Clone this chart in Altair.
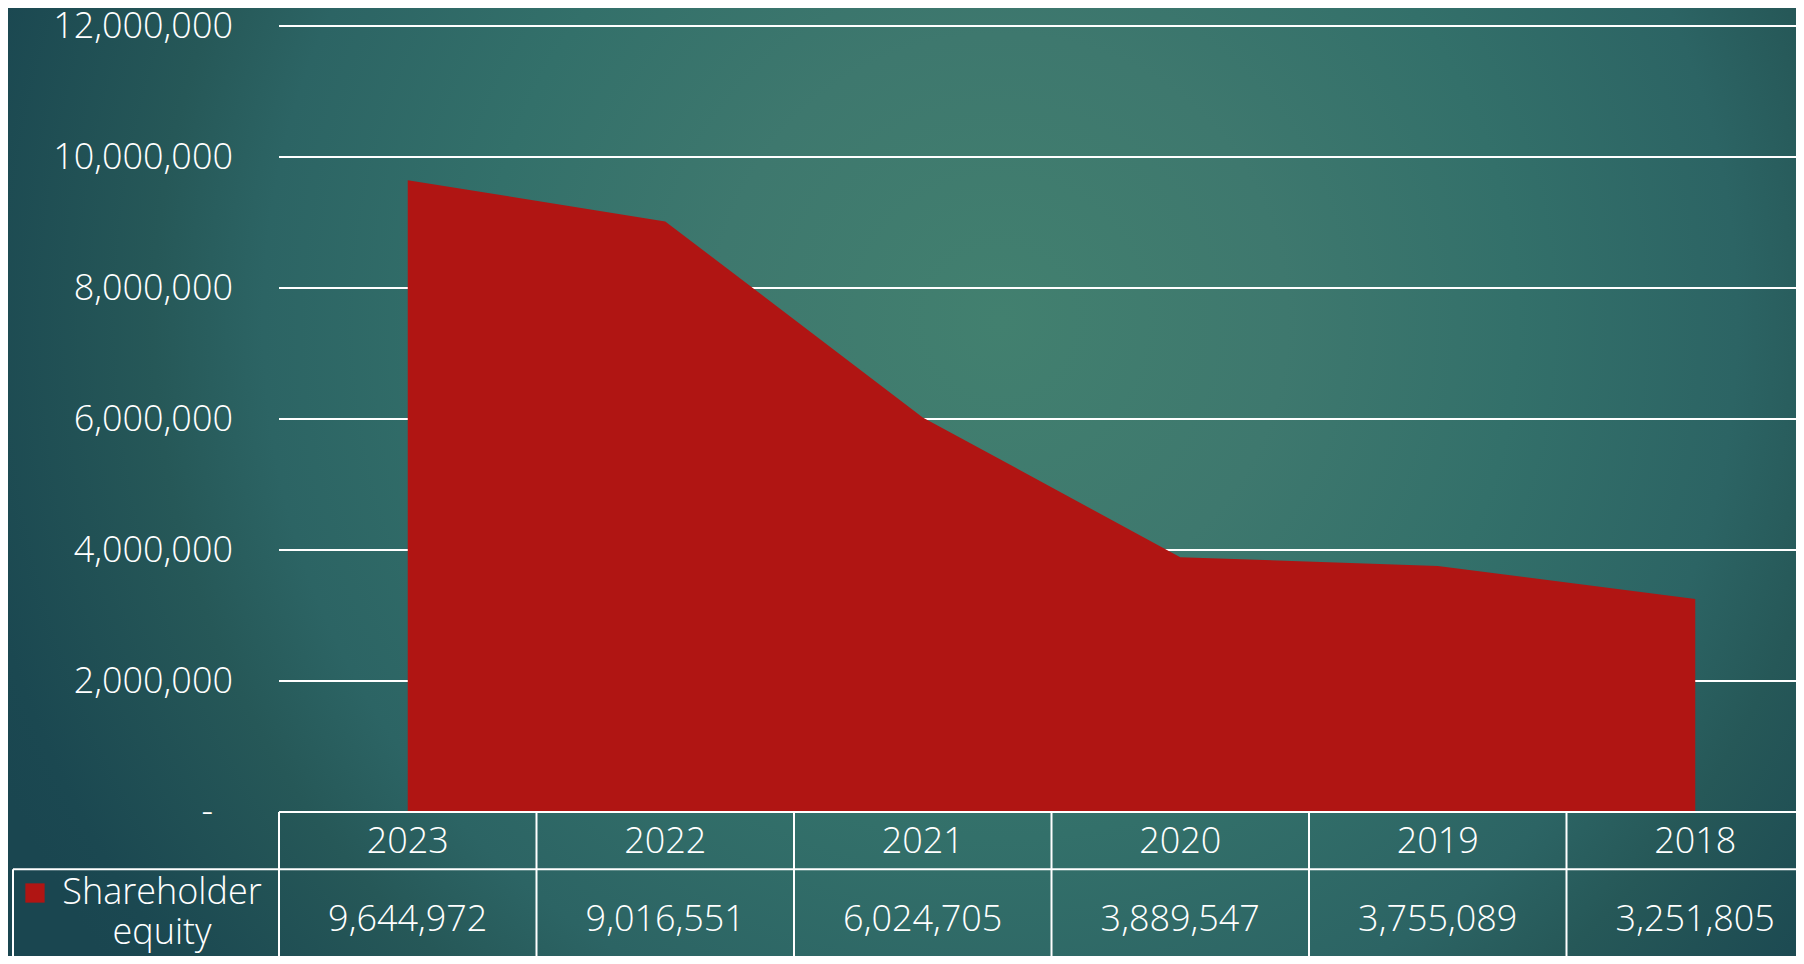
import altair as alt
import pandas as pd

# ---- data ----
YEARS = ["2023", "2022", "2021", "2020", "2019", "2018"]
EQUITY = [9644972, 9016551, 6024705, 3889547, 3755089, 3251805]
SERIES = "Shareholder equity"
YTICKS = [0, 2000000, 4000000, 6000000, 8000000, 10000000, 12000000]
YTICK_LABELS = ["-", "2,000,000", "4,000,000", "6,000,000",
                "8,000,000", "10,000,000", "12,000,000"]

# ---- layout ----
W, H = 1517, 786
PAD_L, PAD_T = 271, 18
TOTAL_W, TOTAL_H = 1788, 948
COL_W = 257.5
RED = "#B01513"
FONT = "Open Sans"
FS = 36

df = pd.DataFrame({
    "i": list(range(len(YEARS))),
    "year": YEARS,
    "v": EQUITY,
    "label": [f"{v:,}" for v in EQUITY],
})
grid_df = pd.DataFrame({"v": YTICKS[1:], "x0": -0.5, "x1": len(YEARS) - 0.5})
ylab_df = pd.DataFrame({"v": YTICKS, "label": YTICK_LABELS})
vline_df = pd.DataFrame({"b": [i - 0.5 for i in range(len(YEARS))]})
zero_df = pd.DataFrame({"v": [0], "x0": [-0.5], "x1": [len(YEARS) - 0.5]})
one = pd.DataFrame({"a": [0]})
legend_df = pd.DataFrame({"t": [SERIES.replace(" ", "\n")]})

xs = alt.Scale(domain=[-0.5, len(YEARS) - 0.5], range=[0, COL_W * len(YEARS)],
               nice=False, zero=False)
ys = alt.Scale(domain=[0, 12000000], nice=False, zero=True)

gradient = {
    "gradient": "radial",
    "x1": 0.555, "y1": 0.41, "r1": 0,
    "x2": 0.555, "y2": 0.41, "r2": 0.615,
    "stops": [
        {"offset": 0.0, "color": "#42806f"},
        {"offset": 0.26, "color": "#3e786e"},
        {"offset": 0.47, "color": "#33706a"},
        {"offset": 0.67, "color": "#2c6464"},
        {"offset": 0.77, "color": "#265858"},
        {"offset": 0.95, "color": "#1b4851"},
        {"offset": 1.0, "color": "#1a4650"},
    ],
}

bg = alt.Chart(one).mark_rect(color=gradient, clip=False).encode(
    x=alt.value(-PAD_L), x2=alt.value(TOTAL_W - PAD_L),
    y=alt.value(-PAD_T), y2=alt.value(TOTAL_H - PAD_T),
)

grid = alt.Chart(grid_df).mark_rule(color="white", strokeWidth=2).encode(
    x=alt.X("x0:Q", scale=xs, axis=None), x2="x1:Q",
    y=alt.Y("v:Q", scale=ys, axis=None),
)

area = alt.Chart(df).mark_area(color=RED, opacity=1).encode(
    x=alt.X("i:Q", scale=xs, axis=None),
    y=alt.Y("v:Q", scale=ys, axis=None),
)

ylabels = alt.Chart(ylab_df).transform_filter("datum.v > 0").mark_text(
    align="right", baseline="middle", dy=1
).encode(
    x=alt.value(-46),
    y=alt.Y("v:Q", scale=ys, axis=None),
    text="label:N",
)

ylabel_zero = alt.Chart(ylab_df).transform_filter("datum.v == 0").mark_text(
    align="right", baseline="middle"
).encode(
    x=alt.value(-66),
    y=alt.Y("v:Q", scale=ys, axis=None),
    text="label:N",
)

zero_line = alt.Chart(zero_df).mark_rule(color="white", strokeWidth=2).encode(
    x=alt.X("x0:Q", scale=xs, axis=None), x2="x1:Q",
    y=alt.Y("v:Q", scale=ys, axis=None),
)

row_div = alt.Chart(one).mark_rule(color="white", strokeWidth=2).encode(
    x=alt.value(-266), x2=alt.value(COL_W * len(YEARS)), y=alt.value(843.3),
)

vlines = alt.Chart(vline_df).mark_rule(color="white", strokeWidth=2).encode(
    x=alt.X("b:Q", scale=xs, axis=None),
    y=alt.value(H), y2=alt.value(TOTAL_H - PAD_T + 10),
)

legend_left = alt.Chart(one).mark_rule(color="white", strokeWidth=2).encode(
    x=alt.value(-266), y=alt.value(843.3), y2=alt.value(TOTAL_H - PAD_T + 10),
)

years = alt.Chart(df).mark_text(align="center", baseline="alphabetic").encode(
    x=alt.X("i:Q", scale=xs, axis=None), y=alt.value(826.7), text="year:N",
)

values = alt.Chart(df).mark_text(align="center", baseline="alphabetic").encode(
    x=alt.X("i:Q", scale=xs, axis=None), y=alt.value(904.7), text="label:N",
)

legend_sq = alt.Chart(one).mark_square(size=372, color=RED, opacity=1).encode(
    x=alt.value(-244), y=alt.value(867),
)

legend_txt = alt.Chart(legend_df).mark_text(
    align="center", baseline="alphabetic", lineBreak="\n", lineHeight=40
).encode(x=alt.value(-117), y=alt.value(877.5), text="t:N")

chart = alt.layer(
    bg, grid, area, ylabels, ylabel_zero, zero_line, row_div, vlines, legend_left,
    years, values, legend_sq, legend_txt,
).properties(
    width=W, height=H,
    padding={"left": PAD_L, "top": PAD_T, "right": 0, "bottom": TOTAL_H - PAD_T - H},
    autosize=alt.AutoSizeParams(type="none"),
    background="#1e4d55",
).configure_view(stroke=None).configure_text(
    font=FONT, fontSize=FS, fontWeight=300, color="white",
)

chart.save("out.html", embed_options={"renderer": "svg", "actions": False})
